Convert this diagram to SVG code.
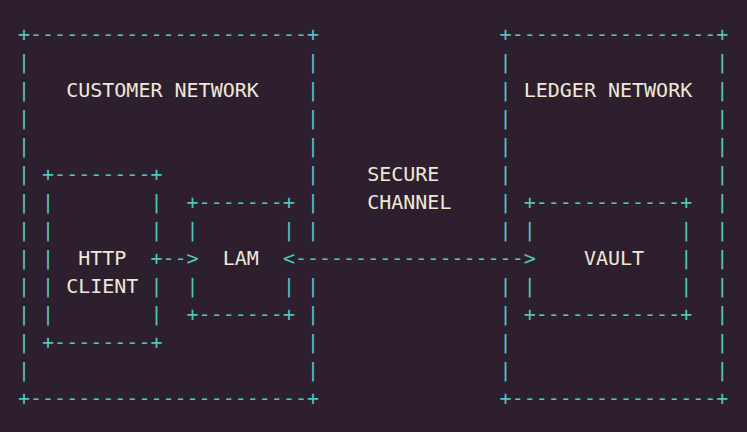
<svg xmlns="http://www.w3.org/2000/svg" width="747" height="432" viewBox="0 0 747 432">
<style>
text{font-family:"DejaVu Sans Mono","Liberation Mono",monospace;font-size:20px}
.b{fill:#4fc6bb}
.l{fill:#eee8d6}
</style>
<rect width="747" height="432" fill="#2e1f2f"/>
<g id="customer-network" class="b">
<text x="18" y="41">+-----------------------+</text>
<text x="18" y="69">|</text><text x="306.96" y="69">|</text>
<text x="18" y="97">|</text><text x="306.96" y="97">|</text>
<text x="18" y="125">|</text><text x="306.96" y="125">|</text>
<text x="18" y="153">|</text><text x="306.96" y="153">|</text>
<text x="18" y="181">|</text><text x="306.96" y="181">|</text>
<text x="18" y="209">|</text><text x="306.96" y="209">|</text>
<text x="18" y="237">|</text><text x="306.96" y="237">|</text>
<text x="18" y="265">|</text>
<text x="18" y="293">|</text><text x="306.96" y="293">|</text>
<text x="18" y="321">|</text><text x="306.96" y="321">|</text>
<text x="18" y="349">|</text><text x="306.96" y="349">|</text>
<text x="18" y="377">|</text><text x="306.96" y="377">|</text>
<text x="18" y="405">+-----------------------+</text>
<text class="l" x="66.16" y="97">CUSTOMER NETWORK</text>
</g>
<g id="http-client" class="b">
<text x="42.08" y="181">+--------+</text>
<text x="42.08" y="209">|</text><text x="150.44" y="209">|</text>
<text x="42.08" y="237">|</text><text x="150.44" y="237">|</text>
<text x="42.08" y="265">|</text><text x="150.44" y="265">+</text>
<text x="42.08" y="293">|</text><text x="150.44" y="293">|</text>
<text x="42.08" y="321">|</text><text x="150.44" y="321">|</text>
<text x="42.08" y="349">+--------+</text>
<text class="l" x="78.2" y="265">HTTP</text>
<text class="l" x="66.16" y="293">CLIENT</text>
</g>
<g id="lam" class="b">
<text x="186.56" y="209">+-------+</text>
<text x="186.56" y="237">|</text><text x="282.88" y="237">|</text>
<text x="186.56" y="293">|</text><text x="282.88" y="293">|</text>
<text x="186.56" y="321">+-------+</text>
<text class="l" x="222.68" y="265">LAM</text>
</g>
<g id="secure-channel">
<text class="l" x="367.16" y="181">SECURE</text>
<text class="l" x="367.16" y="209">CHANNEL</text>
</g>
<g id="ledger-network" class="b">
<text x="499.6" y="41">+-----------------+</text>
<text x="499.6" y="69">|</text><text x="716.32" y="69">|</text>
<text x="499.6" y="97">|</text><text x="716.32" y="97">|</text>
<text x="499.6" y="125">|</text><text x="716.32" y="125">|</text>
<text x="499.6" y="153">|</text><text x="716.32" y="153">|</text>
<text x="499.6" y="181">|</text><text x="716.32" y="181">|</text>
<text x="499.6" y="209">|</text><text x="716.32" y="209">|</text>
<text x="499.6" y="237">|</text><text x="716.32" y="237">|</text>
<text x="716.32" y="265">|</text>
<text x="499.6" y="293">|</text><text x="716.32" y="293">|</text>
<text x="499.6" y="321">|</text><text x="716.32" y="321">|</text>
<text x="499.6" y="349">|</text><text x="716.32" y="349">|</text>
<text x="499.6" y="377">|</text><text x="716.32" y="377">|</text>
<text x="499.6" y="405">+-----------------+</text>
<text class="l" x="523.68" y="97">LEDGER NETWORK</text>
</g>
<g id="vault" class="b">
<text x="523.68" y="209">+------------+</text>
<text x="523.68" y="237">|</text><text x="680.2" y="237">|</text>
<text x="680.2" y="265">|</text>
<text x="523.68" y="293">|</text><text x="680.2" y="293">|</text>
<text x="523.68" y="321">+------------+</text>
<text class="l" x="583.88" y="265">VAULT</text>
</g>
<g id="connectors" class="b">
<text x="162.48" y="265">--&gt;</text>
<text x="282.88" y="265">&lt;-------------------&gt;</text>
</g>
</svg>
